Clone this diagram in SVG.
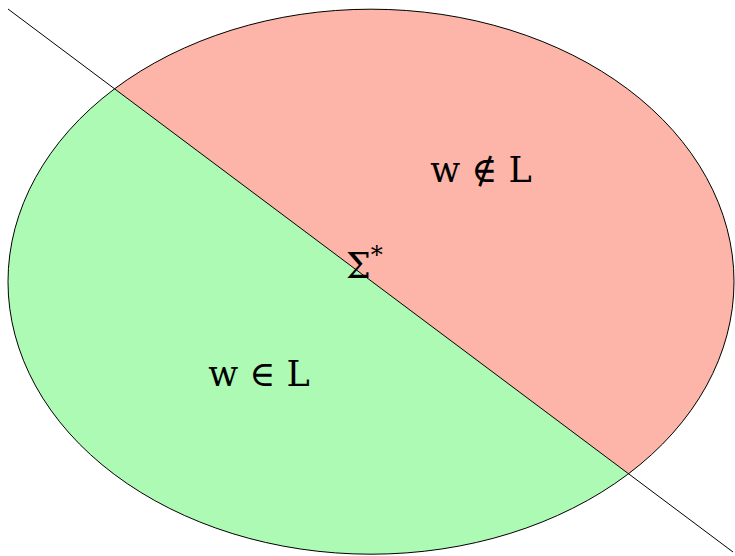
<svg xmlns="http://www.w3.org/2000/svg" width="735" height="556" viewBox="0 0 735 556">
<style>
.lbl{font-family:"DejaVu Serif","Liberation Serif",serif;font-size:35px;fill:#000;text-anchor:middle}
.edge{stroke:#000;stroke-width:1;fill:none}
</style>
<defs>
<clipPath id="ell"><ellipse cx="371" cy="281.7" rx="363" ry="272.5"/></clipPath>
</defs>
<rect width="735" height="556" fill="#fff"/>
<g id="in-L">
<ellipse cx="371" cy="281.7" rx="363" ry="272.5" fill="#adfab5"/>
<text class="lbl" x="259" y="386">w ∈ L</text>
</g>
<g id="not-in-L">
<polygon points="0,3 735,553.5 735,0 0,0" fill="#fdb4a9" clip-path="url(#ell)"/>
<text class="lbl" x="481" y="182">w ∉ L</text>
</g>
<g id="sigma-star">
<ellipse cx="371" cy="281.7" rx="363" ry="272.5" class="edge"/>
</g>
<g id="connectors">
<line x1="8" y1="9" x2="733" y2="552" class="edge"/>
</g>
<g id="sigma-label">
<text class="lbl" x="346" y="278" style="text-anchor:start">Σ<tspan font-size="24" dy="-15">*</tspan></text>
</g>
</svg>
